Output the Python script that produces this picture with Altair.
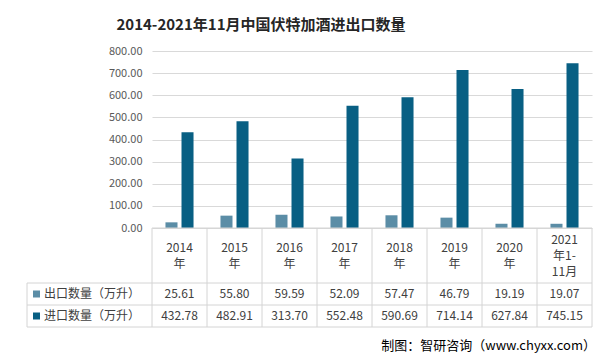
import altair as alt
import pandas as pd

categories = ["2014年", "2015年", "2016年", "2017年", "2018年", "2019年", "2020年", "2021年1-11月"]
header_labels = ["2014\n年", "2015\n年", "2016\n年", "2017\n年", "2018\n年", "2019\n年", "2020\n年", "2021\n年1-\n11月"]
export_values = [25.61, 55.80, 59.59, 52.09, 57.47, 46.79, 19.19, 19.07]
import_values = [432.78, 482.91, 313.70, 552.48, 590.69, 714.14, 627.84, 745.15]
series = ["出口数量（万升）", "进口数量（万升）"]
colors = ["#5b8da6", "#085f83"]
y_ticks = [0, 100, 200, 300, 400, 500, 600, 700, 800]
title_text = "2014-2021年11月中国伏特加酒进出口数量"
source_text = "制图：智研咨询（www.chyxx.com）"

FONT = "Noto Sans CJK SC"
W, H = 440, 177
LINE = "#d4d4d4"
TXT = "#404040"

wide = pd.DataFrame({
    "cat": categories,
    "header": header_labels,
    "exp": export_values,
    "imp": import_values,
})
wide["lines"] = wide["header"].str.count("\n") + 1

long = pd.DataFrame({
    "cat": categories * 2,
    "series": [series[0]] * len(categories) + [series[1]] * len(categories),
    "value": export_values + import_values,
})

one = pd.DataFrame({"k": [0]})
leg = pd.DataFrame({"series": series, "row": [0, 1]})

xenc = alt.X("cat:N", sort=categories, scale=alt.Scale(paddingInner=0, paddingOuter=0), axis=None)

bars = alt.Chart(long).mark_bar().encode(
    x=xenc,
    xOffset=alt.XOffset("series:N", sort=series,
                        scale=alt.Scale(paddingInner=0.25, paddingOuter=0.84)),
    y=alt.Y("value:Q", scale=alt.Scale(domain=[0, 800], nice=False),
            axis=alt.Axis(values=y_ticks, format=".2f", grid=True, gridColor="#d9d9d9",
                          domain=False, ticks=False, labelColor="#595959",
                          labelFontSize=11, labelPadding=10, title=None, labelFont=FONT)),
    color=alt.Color("series:N", sort=series, scale=alt.Scale(domain=series, range=colors), legend=None),
)

# table lines
hlines = []
for yv, x0 in [(H, 0), (H + 55, -125), (H + 77, -125), (H + 99, -125)]:
    hlines.append(alt.Chart(one).mark_rule(color=LINE, strokeWidth=1).encode(
        x=alt.value(x0), x2=alt.value(W), y=alt.value(yv)))

vlines = alt.Chart(wide).mark_rule(color=LINE, strokeWidth=1).encode(
    x=alt.X("cat:N", sort=categories, bandPosition=0, scale=alt.Scale(paddingInner=0, paddingOuter=0), axis=None),
    y=alt.value(H), y2=alt.value(H + 99))
vright = alt.Chart(one).mark_rule(color=LINE, strokeWidth=1).encode(
    x=alt.value(W), y=alt.value(H), y2=alt.value(H + 99))
vleft = alt.Chart(one).mark_rule(color=LINE, strokeWidth=1).encode(
    x=alt.value(-125), y=alt.value(H + 55), y2=alt.value(H + 99))

hdr_center = H + 27.5
lh = 16
hdr2 = alt.Chart(wide).transform_filter("datum.lines == 2").mark_text(
    font=FONT, fontSize=12, color=TXT, baseline="middle", lineBreak="\n", lineHeight=lh).encode(
    x=xenc, y=alt.value(hdr_center - lh / 2), text="header:N")
hdr3 = alt.Chart(wide).transform_filter("datum.lines == 3").mark_text(
    font=FONT, fontSize=12, color=TXT, baseline="middle", lineBreak="\n", lineHeight=lh).encode(
    x=xenc, y=alt.value(hdr_center - lh), text="header:N")

row1 = alt.Chart(wide).mark_text(font=FONT, fontSize=12, color=TXT, baseline="middle").encode(
    x=xenc, y=alt.value(H + 66), text=alt.Text("exp:Q", format=".2f"))
row2 = alt.Chart(wide).mark_text(font=FONT, fontSize=12, color=TXT, baseline="middle").encode(
    x=xenc, y=alt.value(H + 88), text=alt.Text("imp:Q", format=".2f"))

sq1 = alt.Chart(leg).transform_filter("datum.row == 0").mark_square(size=49, opacity=1).encode(
    x=alt.value(-115.5), y=alt.value(H + 66),
    color=alt.Color("series:N", scale=alt.Scale(domain=series, range=colors), legend=None))
sq2 = alt.Chart(leg).transform_filter("datum.row == 1").mark_square(size=49, opacity=1).encode(
    x=alt.value(-115.5), y=alt.value(H + 88),
    color=alt.Color("series:N", scale=alt.Scale(domain=series, range=colors), legend=None))
lt1 = alt.Chart(leg).transform_filter("datum.row == 0").mark_text(
    font=FONT, fontSize=12, color=TXT, baseline="middle", align="left").encode(
    x=alt.value(-108), y=alt.value(H + 66), text="series:N")
lt2 = alt.Chart(leg).transform_filter("datum.row == 1").mark_text(
    font=FONT, fontSize=12, color=TXT, baseline="middle", align="left").encode(
    x=alt.value(-108), y=alt.value(H + 88), text="series:N")

title = alt.Chart(pd.DataFrame({"t": [title_text]})).mark_text(
    font=FONT, fontSize=15, fontWeight="bold", color="#262626", baseline="middle", align="center").encode(
    x=alt.value(109), y=alt.value(-26), text="t:N")
source = alt.Chart(pd.DataFrame({"t": [source_text]})).mark_text(
    font=FONT, fontSize=13, color="#000000", baseline="middle", align="right").encode(
    x=alt.value(444), y=alt.value(295), text="t:N")

chart = alt.layer(
    bars, *hlines, vlines, vright, vleft, hdr2, hdr3, row1, row2, sq1, sq2, lt1, lt2, title, source
).properties(
    width=W, height=H,
    autosize=alt.AutoSizeParams(type="none"),
    padding={"left": 144, "top": 43, "right": 6, "bottom": 128},
    background="white",
).configure_view(stroke=None)

chart.save("out.html", embed_options={"renderer": "svg", "actions": False})
